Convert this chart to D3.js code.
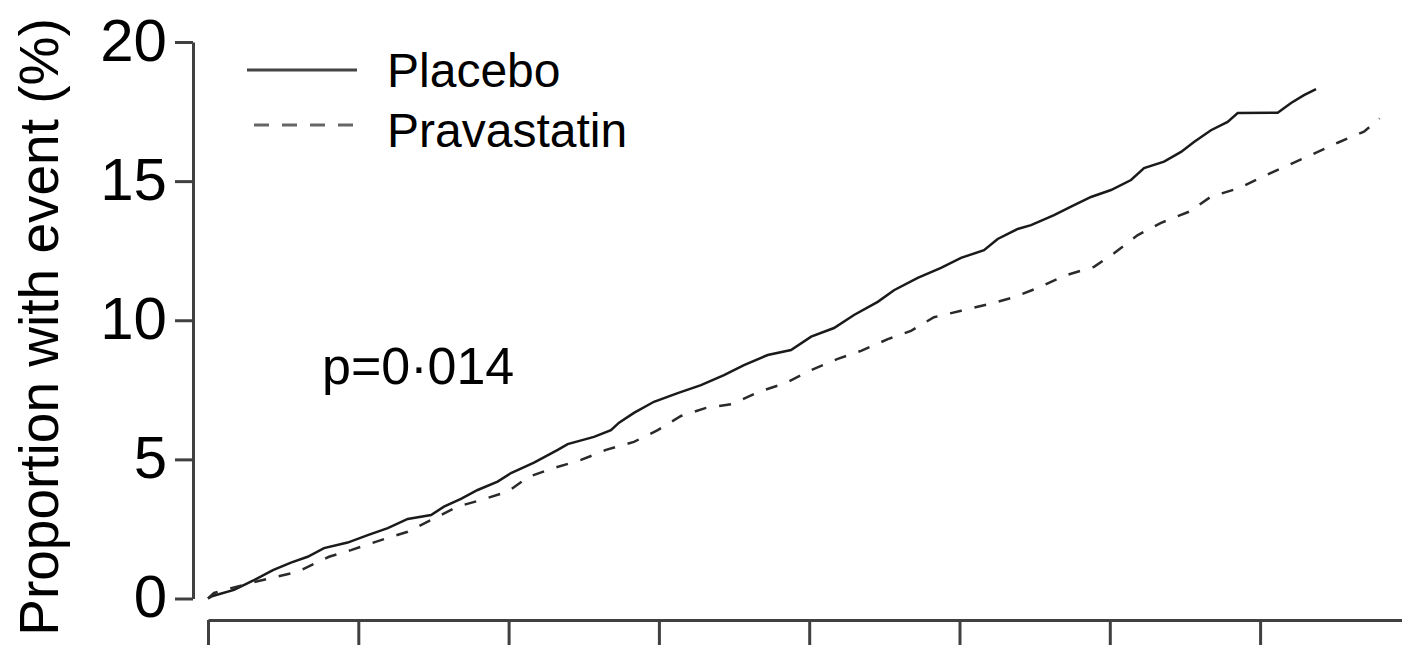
<!DOCTYPE html>
<html>
<head>
<meta charset="utf-8">
<script src="https://cdn.jsdelivr.net/npm/d3@7/dist/d3.min.js"></script>
<style>
  html, body { margin: 0; padding: 0; background: #fff; }
  svg { display: block; }
  text { font-family: "Liberation Sans", Arial, sans-serif; fill: #000; }
</style>
</head>
<body>
<svg id="chart" width="1402" height="645"></svg>
<script>
// ---- data (years, % with event) ----
const placeboT = [0,0.031,0.173,0.306,0.432,0.552,0.663,0.772,0.929,1.063,1.196,1.329,1.484,1.570,1.683,1.794,1.927,2.016,2.169,2.327,2.393,2.568,2.681,2.735,2.834,2.967,3.125,3.280,3.433,3.566,3.724,3.879,4.013,4.165,4.298,4.456,4.564,4.722,4.877,5.010,5.163,5.254,5.387,5.476,5.629,5.742,5.875,6.008,6.141,6.228,6.361,6.474,6.560,6.673,6.784,6.851,7.117,7.206,7.292,7.372];
const placeboV = [0,0.09,0.31,0.66,1.02,1.29,1.50,1.81,2.01,2.28,2.53,2.86,3.00,3.30,3.58,3.90,4.20,4.51,4.88,5.34,5.55,5.81,6.05,6.32,6.67,7.07,7.38,7.67,8.03,8.39,8.75,8.93,9.41,9.72,10.19,10.66,11.08,11.52,11.88,12.24,12.52,12.92,13.28,13.42,13.78,14.08,14.43,14.68,15.04,15.47,15.70,16.05,16.41,16.83,17.13,17.45,17.46,17.81,18.09,18.31];
const pravaT = [0,0.04,0.306,0.597,0.805,0.951,1.151,1.329,1.661,1.816,1.994,2.136,2.302,2.482,2.648,2.834,2.992,3.147,3.314,3.491,3.666,3.846,4.013,4.190,4.345,4.523,4.677,4.830,5.010,5.196,5.363,5.520,5.709,5.895,6.028,6.186,6.341,6.527,6.673,6.860,7.017,7.172,7.339,7.516,7.691,7.795];
const pravaV = [0,0.20,0.59,0.96,1.50,1.74,2.10,2.40,3.30,3.54,3.84,4.38,4.69,4.98,5.34,5.63,6.05,6.56,6.85,6.99,7.43,7.75,8.21,8.61,8.90,9.32,9.62,10.11,10.34,10.58,10.83,11.16,11.62,11.92,12.41,13.06,13.50,13.90,14.44,14.75,15.16,15.54,15.94,16.38,16.78,17.25];
const yTicks = [0, 5, 10, 15, 20];
const xTicks = [0, 1, 2, 3, 4, 5, 6, 7];
const seriesNames = ["Placebo", "Pravastatin"];
const yTitle = "Proportion with event (%)";
const pLabel = "p=0·014";

const svg = d3.select("#chart");
const x = d3.scaleLinear().domain([0, 8]).range([208, 208 + 8 * 150.3]);
const y = d3.scaleLinear().domain([0, 20]).range([598.5, 42]);

// y axis
const yAxis = svg.append("g").attr("transform", "translate(193,0)")
  .call(d3.axisLeft(y).tickValues(yTicks).tickSize(18).tickSizeOuter(0).tickPadding(8).tickFormat(d3.format("d")));
yAxis.select(".domain").attr("stroke", "#404040").attr("stroke-width", 3);
yAxis.selectAll(".tick line").attr("stroke", "#404040").attr("stroke-width", 3);
yAxis.selectAll(".tick text").attr("font-size", 60).attr("font-family", "Liberation Sans, Arial, sans-serif").attr("fill", "#000").attr("dy", "0.3em");

// x axis (labels cropped below)
const xAxis = svg.append("g").attr("transform", "translate(0,620)")
  .call(d3.axisBottom(x).tickValues(xTicks).tickSize(30).tickSizeOuter(0).tickFormat(""));
xAxis.select(".domain").attr("stroke", "#404040").attr("stroke-width", 3);
xAxis.selectAll(".tick line").attr("stroke", "#404040").attr("stroke-width", 3);

// y title
svg.append("text")
  .attr("transform", "translate(58,327) rotate(-90)")
  .attr("text-anchor", "middle")
  .attr("font-size", 55)
  .text(yTitle);

// lines
const line = d3.line().x(d => x(d[0])).y(d => y(d[1]));
svg.append("path").datum(placeboT.map((t, i) => [t, placeboV[i]]))
  .attr("d", line).attr("fill", "none").attr("stroke", "#1a1a1a").attr("stroke-width", 2.5);
svg.append("path").datum(pravaT.map((t, i) => [t, pravaV[i]]))
  .attr("d", line).attr("fill", "none").attr("stroke", "#2a2a2a").attr("stroke-width", 2.5)
  .attr("stroke-dasharray", "12,13");

// legend
svg.append("line").attr("x1", 247).attr("x2", 357).attr("y1", 70).attr("y2", 70)
  .attr("stroke", "#444").attr("stroke-width", 3);
svg.append("text").attr("x", 387).attr("y", 87).attr("font-size", 48).text(seriesNames[0]);
svg.append("line").attr("x1", 254).attr("x2", 360).attr("y1", 125).attr("y2", 125)
  .attr("stroke", "#666").attr("stroke-width", 3).attr("stroke-dasharray", "15,13");
svg.append("text").attr("x", 387).attr("y", 147).attr("font-size", 48).text(seriesNames[1]);

// p value
svg.append("text").attr("x", 322).attr("y", 384).attr("font-size", 52).text(pLabel);
</script>
</body>
</html>
